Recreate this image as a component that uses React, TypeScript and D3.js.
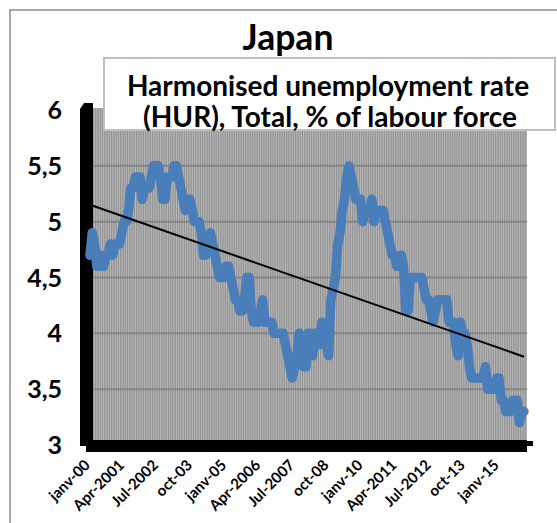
import React from "react";
import * as d3 from "d3";

const y2000 = [4.7, 4.9, 4.8, 4.6, 4.6, 4.7, 4.6, 4.7, 4.7, 4.8, 4.7, 4.8];
const y2001 = [4.8, 4.8, 4.9, 5.0, 5.0, 5.1, 5.3, 5.3, 5.4, 5.4, 5.4, 5.2];
const y2002 = [5.3, 5.3, 5.3, 5.4, 5.5, 5.5, 5.5, 5.4, 5.2, 5.2, 5.4, 5.4];
const y2003 = [5.4, 5.5, 5.5, 5.4, 5.3, 5.2, 5.1, 5.2, 5.2, 5.1, 5.0, 5.0];
const y2004 = [5.0, 4.9, 4.7, 4.7, 4.8, 4.9, 4.8, 4.7, 4.6, 4.5, 4.5, 4.5];
const y2005 = [4.6, 4.6, 4.5, 4.4, 4.3, 4.3, 4.2, 4.2, 4.3, 4.5, 4.5, 4.2];
const y2006 = [4.1, 4.1, 4.1, 4.2, 4.3, 4.1, 4.1, 4.1, 4.1, 4.0, 4.0, 4.0];
const y2007 = [4.0, 4.0, 3.9, 3.8, 3.7, 3.6, 3.7, 3.8, 4.0, 3.9, 3.7, 3.7];
const y2008 = [4.0, 4.0, 3.8, 4.0, 4.0, 3.9, 4.1, 4.0, 3.9, 3.8, 4.3, 4.4];
const y2009 = [4.5, 4.8, 4.9, 5.1, 5.2, 5.4, 5.5, 5.4, 5.3, 5.2, 5.2, 5.2];
const y2010 = [5.0, 5.1, 5.1, 5.1, 5.2, 5.0, 5.1, 5.1, 5.1, 5.1, 5.0, 4.9];
const y2011 = [4.8, 4.7, 4.7, 4.6, 4.6, 4.7, 4.6, 4.2, 4.2, 4.5, 4.5, 4.5];
const y2012 = [4.5, 4.5, 4.5, 4.4, 4.3, 4.3, 4.2, 4.1, 4.2, 4.3, 4.3, 4.3];
const y2013 = [4.3, 4.3, 4.1, 4.1, 4.1, 3.9, 3.8, 4.1, 4.0, 4.0, 3.9, 3.7];
const y2014 = [3.6, 3.6, 3.6, 3.6, 3.6, 3.6, 3.7, 3.5, 3.5, 3.5, 3.5, 3.6];
const y2015 = [3.6, 3.4, 3.4, 3.3, 3.3, 3.3, 3.4, 3.4, 3.4, 3.2, 3.3, 3.3];

const values = [
  ...y2000, ...y2001, ...y2002, ...y2003, ...y2004, ...y2005, ...y2006, ...y2007,
  ...y2008, ...y2009, ...y2010, ...y2011, ...y2012, ...y2013, ...y2014, ...y2015,
];

const xTickLabels = [
  "janv-00", "Apr-2001", "Jul-2002", "oct-03", "janv-05", "Apr-2006", "Jul-2007",
  "oct-08", "janv-10", "Apr-2011", "Jul-2012", "oct-13", "janv-15",
];
const xTickStep = 15;
const yTicks = [3, 3.5, 4, 4.5, 5, 5.5, 6];

const title = "Japan";
const subtitle1 = "Harmonised unemployment rate";
const subtitle2 = "(HUR), Total, % of labour force";

const FONT = "Lato, 'Open Sans', sans-serif";

export default function App() {
  const W = 557, H = 523;
  const n = values.length;
  const x = d3.scaleLinear().domain([0, n - 1]).range([90, 524]);
  const y = d3.scaleLinear().domain([3, 6]).range([445, 110]);

  const plotL = 93, plotR = 527, plotT = 108, plotB = 440;

  // linear regression trend
  const idx = d3.range(n);
  const mx = d3.mean(idx) as number;
  const my = d3.mean(values) as number;
  let sxy = 0, sxx = 0;
  idx.forEach((i) => { sxy += (i - mx) * (values[i] - my); sxx += (i - mx) * (i - mx); });
  const slope = sxy / sxx;
  const icpt = my - slope * mx;
  const trend = [0, n - 1].map((i) => [i, icpt + slope * i] as [number, number]);

  const line = d3.line<number>().x((_, i) => x(i)).y((d) => y(d));
  const tLine = d3.line<[number, number]>().x((d) => x(d[0])).y((d) => y(d[1]));

  const stripes: number[] = [];
  for (let i = 0; i <= n; i++) {
    const sx = x(i - 0.5) + 1.2;
    if (sx > plotL && sx < plotR) stripes.push(sx);
  }

  return (
    <svg width={W} height={H} style={{ position: "absolute", left: 0, top: 0 }}
      fontFamily={FONT}>
      <rect x={0} y={0} width={W} height={H} fill="#fff" />
      <rect x={10} y={10} width={W + 20} height={H + 20} fill="none" stroke="#8a8a8a" strokeWidth={1.5} />

      {/* plot background */}
      <rect x={plotL} y={plotT} width={plotR - plotL} height={plotB - plotT} fill="#939393" />
      {stripes.map((sx, i) => (
        <line key={i} x1={sx} x2={sx} y1={plotT} y2={plotB} stroke="#bebebe" strokeWidth={0.9} />
      ))}
      {yTicks.filter((t) => t > 3 && t < 6).map((t) => (
        <line key={t} x1={plotL} x2={plotR} y1={y(t)} y2={y(t)} stroke="#858585" strokeWidth={2} />
      ))}

      {/* wall & floor */}
      <polygon points={`80,109 84,103 93,103 93,440 86,446 80,446`} fill="#000" />
      <rect x={86} y={440} width={plotR - 86} height={12} fill="#000" />
      <rect x={plotR} y={441} width={6} height={5} fill="#000" />

      {/* y labels */}
      {yTicks.map((t) => (
        <text key={t} x={62} y={y(t)} dy="0.36em" textAnchor="end" fontWeight="bold"
          fontSize={25} fill="#000">
          {String(t).replace(".", ",")}
        </text>
      ))}

      {/* x labels */}
      {xTickLabels.map((lab, k) => {
        const xi = x(k * xTickStep);
        return (
          <text key={lab} transform={`translate(${xi + 1},${466}) rotate(-45)`} textAnchor="end"
            fontWeight="bold" fontSize={15} fill="#000">
            {lab}
          </text>
        );
      })}

      {/* data line */}
      <path d={line(values) || ""} fill="none" stroke="#4a7ebb" strokeWidth={9.5}
        strokeLinejoin="round" strokeLinecap="round" />
      {/* trend */}
      <path d={tLine(trend) || ""} fill="none" stroke="#000" strokeWidth={2} />

      {/* titles */}
      <text x={288} y={50} textAnchor="middle" fontWeight="bold" fontSize={35.5} fill="#000">{title}</text>
      <rect x={104} y={58} width={451} height={72} fill="#fff" stroke="#c0c0c0" strokeWidth={2} />
      <text x={328} y={96} textAnchor="middle" fontWeight="bold" fontSize={28} fill="#000">{subtitle1}</text>
      <text x={330} y={127} textAnchor="middle" fontWeight="bold" fontSize={28} fill="#000">{subtitle2}</text>
    </svg>
  );
}
